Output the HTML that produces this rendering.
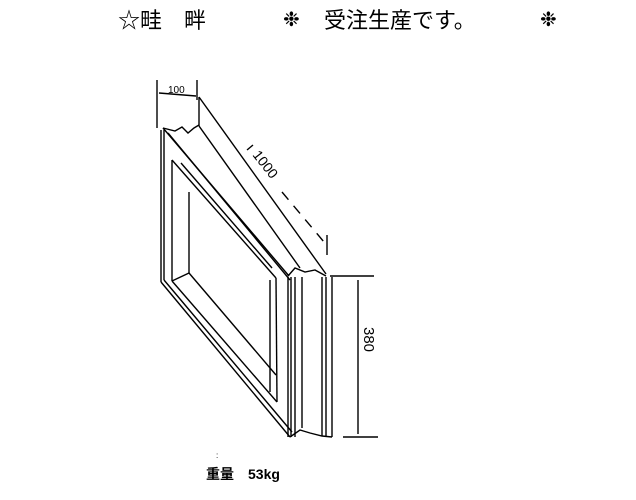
<!DOCTYPE html>
<html><head><meta charset="utf-8"><style>
html,body{margin:0;padding:0;background:#fff;}
body{width:636px;height:500px;position:relative;overflow:hidden;font-family:"Liberation Sans","Noto Sans CJK JP",sans-serif;color:#000;}
.t{position:absolute;white-space:nowrap;line-height:1;}
</style></head><body>
<div class="t" style="left:118px;top:10px;font-size:22px;">☆畦　畔</div>
<div class="t" style="left:283px;top:10px;font-size:20px;">❉</div>
<div class="t" style="left:324px;top:10px;font-size:22px;">受注生産です。</div>
<div class="t" style="left:540px;top:10px;font-size:20px;">❉</div>
<div class="t" style="left:206px;top:467px;font-size:14px;font-weight:bold;">重量　53kg</div>
<div class="t" style="left:216px;top:452px;font-size:8px;">:</div>
<svg width="636" height="500" style="position:absolute;left:0;top:0" fill="none" stroke="#000" stroke-width="1.4">
<line x1="157" y1="80" x2="157" y2="128"/>
<line x1="197" y1="80" x2="197" y2="100"/>
<line x1="159" y1="93" x2="196" y2="96"/>
<text x="168" y="93" font-size="10" stroke="none" fill="#000" font-family="Liberation Sans">100</text>
<polyline points="163,128 175,131 182,127 188,133 194,128 199,125"/>
<line x1="199" y1="97" x2="199" y2="126"/>
<line x1="199" y1="97" x2="326" y2="274"/>
<line x1="199" y1="126" x2="300" y2="268"/>
<line x1="163" y1="128" x2="289" y2="276"/>
<line x1="168" y1="133" x2="290" y2="280"/>
<line x1="161" y1="130" x2="161" y2="282"/>
<line x1="164" y1="130" x2="164" y2="280"/>
<line x1="161" y1="282" x2="290" y2="437"/>
<line x1="164" y1="280" x2="292" y2="432"/>
<line x1="172" y1="160" x2="172" y2="281"/>
<line x1="172" y1="160" x2="276" y2="278"/>
<line x1="181" y1="163" x2="272" y2="268"/>
<line x1="172" y1="281" x2="277" y2="402"/>
<line x1="189" y1="192" x2="189" y2="273"/>
<line x1="172" y1="281" x2="189" y2="273"/>
<line x1="189" y1="273" x2="276" y2="375"/>
<line x1="276" y1="278" x2="277" y2="402"/>
<line x1="270" y1="280" x2="270" y2="392"/>
<polyline points="288,276 295,268 305,272 315,270 326,276"/>
<line x1="288" y1="277" x2="288" y2="437"/>
<line x1="291" y1="277" x2="291" y2="437"/>
<line x1="295" y1="277" x2="295" y2="437"/>
<line x1="302" y1="277" x2="302" y2="428"/>
<line x1="322" y1="277" x2="322" y2="436"/>
<line x1="326" y1="277" x2="326" y2="437"/>
<line x1="332" y1="277" x2="332" y2="437"/>
<polyline points="290,437 300,430 310,433 322,436 332,437"/>
<line x1="327" y1="235" x2="327" y2="255"/>
<line x1="282" y1="192" x2="324" y2="242" stroke-dasharray="10,8"/>
<line x1="247" y1="150" x2="253" y2="145"/>
<text x="0" y="0" font-size="14" stroke="none" fill="#000" font-family="Liberation Sans" transform="translate(252,155) rotate(52)">1000</text>
<line x1="330" y1="276" x2="374" y2="276"/>
<line x1="343" y1="437" x2="378" y2="437"/>
<line x1="358" y1="280" x2="358" y2="434"/>
<text x="0" y="0" font-size="15" stroke="none" fill="#000" font-family="Liberation Sans" transform="translate(364,327) rotate(90)">380</text>
</svg>
</body></html>
